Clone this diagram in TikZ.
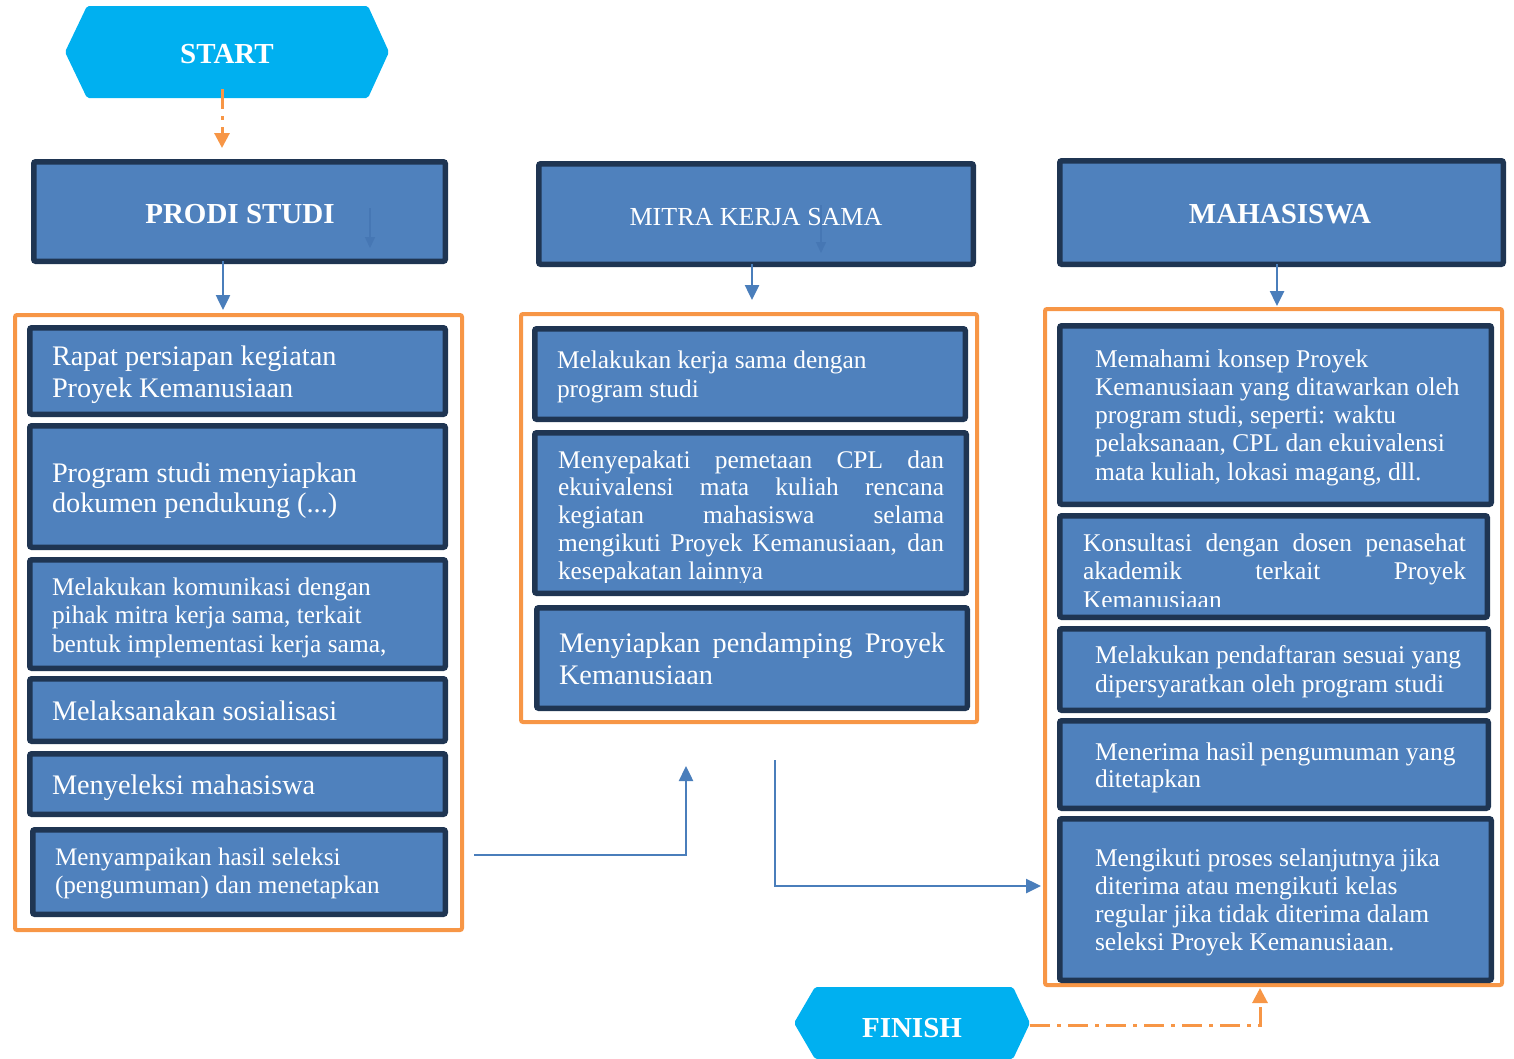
\documentclass[tikz,border=0pt]{standalone}
\usepackage{fontspec}
\setmainfont{Liberation Serif}
\usetikzlibrary{arrows.meta}
\definecolor{boxfill}{HTML}{4F81BD}
\definecolor{boxline}{HTML}{1F3552}
\definecolor{orng}{HTML}{F79646}
\definecolor{hexc}{HTML}{00B0F0}
\definecolor{arrc}{HTML}{4A7EBB}
\definecolor{ghost}{HTML}{4677B4}
\newcommand\fs[2]{\fontsize{#1}{#2}\selectfont}
\newcommand\bx[5]{\node[stepbox, minimum width={(#4)-(#2)-5.5}, minimum height={(#5)-(#3)-5.5}] (#1) at ({((#2)+(#4))/2},{((#3)+(#5))/2}) {};}
\newcommand\ct[5]{\node[contbox, minimum width={(#4)-(#2)-4}, minimum height={(#5)-(#3)-4}] (#1) at ({((#2)+(#4))/2},{((#3)+(#5))/2}) {};}
\newcommand\jl[2]{\hbox to #1pt{#2}}
\tikzset{
  stepbox/.style={draw=boxline, fill=boxfill, line width=5.5pt, rounded corners=2pt, inner sep=0pt, outer sep=0pt},
  contbox/.style={draw=orng, line width=4pt, rounded corners=2pt, inner sep=0pt, outer sep=0pt},
  tx/.style={anchor=base west, inner sep=0pt, outer sep=0pt, text=white},
  hd/.style={anchor=base, inner sep=0pt, outer sep=0pt, text=white},
  hexa/.style={fill=hexc, rounded corners=2pt},
  arr/.style={draw=arrc, line width=2.5pt, -{Triangle[width=14pt,length=15pt]}},
  ghostarr/.style={draw=ghost, line width=1.5pt, -{Triangle[width=10pt,length=11pt]}},
  oarr/.style={draw=orng, line width=3pt, dash pattern=on 20pt off 7pt on 4pt off 7pt, -{Triangle[width=15pt,length=15pt]}}
}
\begin{document}
\begin{tikzpicture}[x=1pt,y=-1pt]
\useasboundingbox (0,0) rectangle (1514,1058);
% START / FINISH
\fill[hexa] (65,52) -- (87,6) -- (368,6) -- (389,52) -- (368,98) -- (87,98) -- cycle;
\node[hd, font=\bfseries\fs{29}{29}] (start) at (227,63) {START};
\fill[hexa] (794,1023) -- (815,987) -- (1013,987) -- (1030,1023) -- (1013,1059) -- (815,1059) -- cycle;
\node[hd, font=\bfseries\fs{29}{29}] (finish) at (912,1037) {FINISH};
% containers
\ct{lc}{13}{313}{464}{932}
\ct{mc}{519}{312}{979}{724}
\ct{rc}{1043}{307}{1504}{987}
% headers
\bx{prodi}{31}{159}{448}{264}
\node[hd, font=\bfseries\fs{29}{29}] (prodit) at (240,223) {PRODI STUDI};
\bx{mitra}{536}{161}{976}{267}
\node[hd, font=\fs{26}{26}] (mitrat) at (756,225) {MITRA KERJA SAMA};
\bx{mhs}{1057}{158}{1506}{267}
\node[hd, font=\bfseries\fs{29}{29}] (mhst) at (1280,223) {MAHASISWA};
% left column
\bx{l1}{27}{325}{448}{417}
\bx{l2}{27}{423}{448}{550}
\bx{l3}{27}{557}{448}{671}
\bx{l4}{27}{676}{448}{744}
\bx{l5}{27}{751}{448}{817}
\bx{l6}{30}{827}{448}{917}
\node[tx, font=\fs{28.3}{32}] (l1t) at (52,365) {\vtop{\hbox{Rapat persiapan kegiatan}\hbox{Proyek Kemanusiaan}}};
\node[tx, font=\fs{28.3}{30}] (l2t) at (52,482) {\vtop{\hbox{Program studi menyiapkan}\hbox{dokumen pendukung (...)}}};
\node[tx, font=\fs{25.4}{28.5}] (l3t) at (52,595) {\vtop{\hbox{Melakukan komunikasi dengan}\hbox{pihak mitra kerja sama, terkait}\hbox{bentuk implementasi kerja sama,}}};
\node[tx, font=\fs{28.3}{30}] (l4t) at (52,720) {Melaksanakan sosialisasi};
\node[tx, font=\fs{28.3}{30}] (l5t) at (52,794) {Menyeleksi mahasiswa};
\node[tx, font=\fs{25.2}{28}] (l6t) at (55,865) {\vtop{\hbox{Menyampaikan hasil seleksi}\hbox{(pengumuman) dan menetapkan}}};
% middle column
\bx{m1}{532}{326}{968}{422}
\bx{m2}{532}{430}{969}{596}
\bx{m3}{534}{605}{970}{711}
\node[tx, font=\fs{25.4}{29}] (m1t) at (557,368) {\vtop{\hbox{Melakukan kerja sama dengan}\hbox{program studi}}};
\begin{scope}
\clip (540,440) rectangle (960,582);
\node[tx, font=\fs{25.4}{27.8}] (m2t) at (558,468) {\vtop{\jl{386}{Menyepakati pemetaan CPL dan}\jl{386}{ekuivalensi mata kuliah rencana}\jl{386}{kegiatan mahasiswa selama}\jl{386}{mengikuti Proyek Kemanusiaan, dan}\hbox{kesepakatan lainnya}}};
\end{scope}
\node[tx, font=\fs{28.3}{32}] (m3t) at (559,652) {\vtop{\jl{386}{Menyiapkan pendamping Proyek}\hbox{Kemanusiaan}}};
% right column
\bx{r1}{1057}{323}{1494}{507}
\bx{r2}{1057}{513}{1490}{620}
\bx{r3}{1057}{626}{1491}{713}
\bx{r4}{1057}{718}{1491}{811}
\bx{r5}{1057}{816}{1494}{983}
\node[tx, font=\fs{25.5}{28.3}] (r1t) at (1095,367) {\vtop{\hbox{Memahami konsep Proyek}\hbox{Kemanusiaan yang ditawarkan oleh}\hbox{program studi, seperti: waktu}\hbox{pelaksanaan, CPL dan ekuivalensi}\hbox{mata kuliah, lokasi magang, dll.}}};
\begin{scope}
\clip (1065,520) rectangle (1482,606);
\node[tx, font=\fs{25.5}{28.5}] (r2t) at (1083,551) {\vtop{\jl{383}{Konsultasi dengan dosen penasehat}\jl{383}{akademik terkait Proyek}\hbox{Kemanusiaan}}};
\end{scope}
\node[tx, font=\fs{25.5}{29}] (r3t) at (1095,663) {\vtop{\hbox{Melakukan pendaftaran sesuai yang}\hbox{dipersyaratkan oleh program studi}}};
\node[tx, font=\fs{25.5}{27}] (r4t) at (1095,760) {\vtop{\hbox{Menerima hasil pengumuman yang}\hbox{ditetapkan}}};
\node[tx, font=\fs{25.5}{28}] (r5t) at (1095,866) {\vtop{\hbox{Mengikuti proses selanjutnya jika}\hbox{diterima atau mengikuti kelas}\hbox{regular jika tidak diterima dalam}\hbox{seleksi Proyek Kemanusiaan.}}};
% faint arrows inside headers
\coordinate (g1) at (370,208); \coordinate (g2) at (370,248);
\coordinate (g3) at (821,205); \coordinate (g4) at (821,253);
\draw[ghostarr] (g1) -- (g2);
\draw[ghostarr] (g3) -- (g4);
% connectors
\coordinate (s0) at (222,89); \coordinate (s1) at (222,148);
\draw[oarr] (s0) -- (s1);
\coordinate (a1) at (223,310);
\draw[arr] (prodi.south -| a1) -- (a1);
\coordinate (a2) at (752,300);
\draw[arr] (mitra.south -| a2) -- (a2);
\coordinate (a3) at (1277,306);
\draw[arr] (mhs.south -| a3) -- (a3);
\coordinate (c1) at (474,855); \coordinate (c2) at (686,766);
\draw[arr] (c1) -| (c2);
\coordinate (c3) at (775,760); \coordinate (c4) at (1041,886);
\draw[arr] (c3) |- (c4);
\coordinate (f0) at (1030,1025); \coordinate (f1) at (1260,988);
\draw[oarr] (f0) -| (f1);
\end{tikzpicture}
\end{document}
